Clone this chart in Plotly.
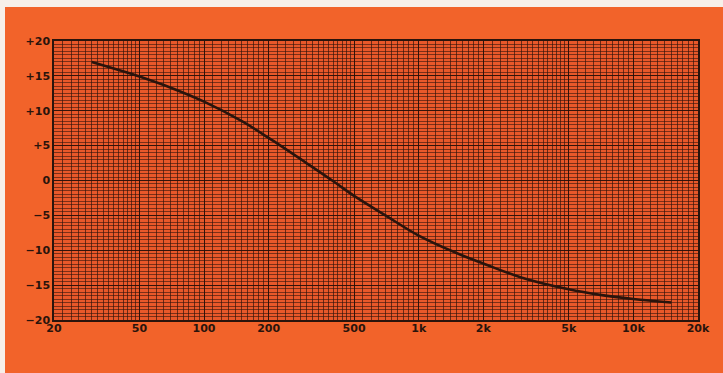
import numpy as np
import plotly.graph_objects as go

# Frequency response
freq_hz = [30, 40, 50, 70, 100, 150, 200, 300, 400, 500, 700, 1000, 1500, 2000, 3000, 5000, 7000, 10000, 15000]
gain_db = [17.0, 15.85, 14.9, 13.3, 11.3, 8.5, 6.1, 2.5, -0.1, -2.2, -5.0, -7.9, -10.4, -11.9, -13.9, -15.6, -16.4, -17.0, -17.5]

x_tick_vals = [20, 50, 100, 200, 500, 1000, 2000, 5000, 10000, 20000]
x_tick_text = ["20", "50", "100", "200", "500", "1k", "2k", "5k", "10k", "20k"]
y_tick_vals = [20, 15, 10, 5, 0, -5, -10, -15, -20]
y_tick_text = ["+20", "+15", "+10", "+5", "0", "\u22125", "\u221210", "\u221215", "\u221220"]

# fine grid of the log paper
minor_x = []
for dec in [10, 100, 1000, 10000]:
    for m in list(np.arange(1.0, 2.0, 0.1)) + list(np.arange(2.0, 5.0, 0.2)) + list(np.arange(5.0, 10.0, 0.5)):
        v = round(m * dec, 6)
        if 20 <= v <= 20000:
            minor_x.append(v)
minor_y = [v / 2 for v in range(-40, 41)]

ORANGE = "#F2632A"
PLOT_BG = "#E8582A"
INK = "#2a140c"

fig = go.Figure()
fig.add_trace(go.Scatter(
    x=freq_hz, y=gain_db, mode="lines",
    line=dict(color=INK, width=2.6, shape="spline", smoothing=1.0),
    hoverinfo="skip", showlegend=False,
))

fig.update_xaxes(
    type="log", range=[np.log10(20), np.log10(20000)],
    tickmode="array", tickvals=x_tick_vals, ticktext=x_tick_text,
    showgrid=True, gridcolor="rgba(40,15,8,0.85)", gridwidth=1.2,
    minor=dict(tickmode="array", tickvals=minor_x, showgrid=True,
               gridcolor="rgba(50,20,12,0.68)", gridwidth=0.9),
    ticks="", ticklabelstandoff=-3,
    showline=True, mirror=True, linecolor=INK, linewidth=1.5,
    zeroline=False,
    tickfont=dict(family="DejaVu Sans", size=11, color=INK, weight="bold"),
)
fig.update_yaxes(
    range=[-20, 20],
    tickmode="array", tickvals=y_tick_vals, ticktext=y_tick_text,
    showgrid=True, gridcolor="rgba(40,15,8,0.85)", gridwidth=1.2,
    minor=dict(tickmode="array", tickvals=minor_y, showgrid=True,
               gridcolor="rgba(50,20,12,0.6)", gridwidth=0.9),
    ticks="", ticklabelstandoff=0,
    showline=True, mirror=True, linecolor=INK, linewidth=1.5,
    zeroline=False,
    tickfont=dict(family="DejaVu Sans", size=11, color=INK, weight="bold"),
)

# scan border (white paper edges)
fig.add_shape(type="rect", xref="paper", yref="paper",
              x0=-0.2, x1=1.2, y0=(366 - 53) / 279, y1=1.3,
              fillcolor="#f7efe9", line=dict(width=0), layer="above")
fig.add_shape(type="rect", xref="paper", yref="paper",
              x0=-0.2, x1=(5 - 54) / 644, y0=-0.3, y1=1.3,
              fillcolor="#f7efe9", line=dict(width=0), layer="above")

fig.update_layout(
    width=723, height=373,
    margin=dict(l=54, r=25, t=41, b=53),
    paper_bgcolor=ORANGE, plot_bgcolor=PLOT_BG,
    showlegend=False,
)

fig.write_html("out.html")
